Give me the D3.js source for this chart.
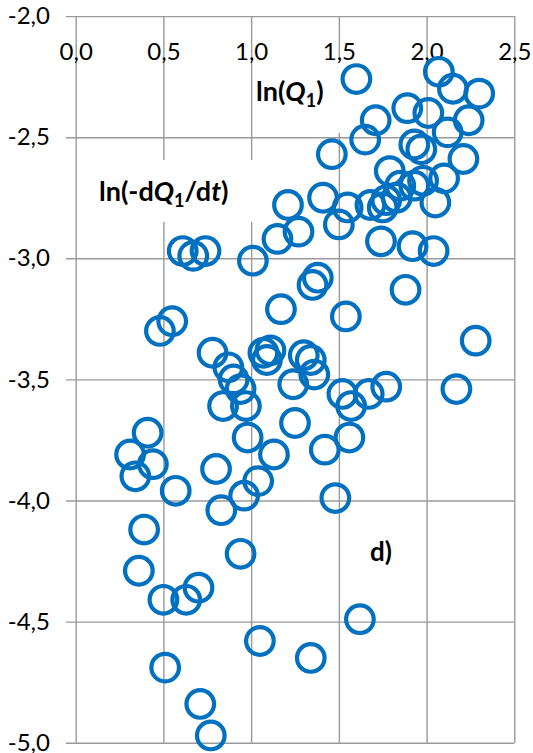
<!DOCTYPE html>
<html>
<head>
<meta charset="utf-8">
<script src="https://cdn.jsdelivr.net/npm/d3@7"></script>
<style>
  body { margin: 0; background: #fff; }
  text { font-family: Lato, "Liberation Sans", sans-serif; fill: #000; }
</style>
</head>
<body>
<div id="chart"></div>
<script>
// ln(Q1) on x, ln(-dQ1/dt) on y
const lnQ = [1.60, 2.07, 2.15, 2.30, 1.89, 2.01, 1.71, 1.65, 2.24, 2.12,
  1.93, 1.97, 2.21, 1.46, 1.79, 2.10, 1.98, 1.93, 1.85, 1.83,
  1.77, 2.05, 1.41, 1.55, 1.68, 1.75, 1.50, 1.21, 1.27, 1.15,
  1.74, 1.92, 2.04, 0.61, 0.67, 0.74, 1.01, 1.38, 1.35, 1.88,
  1.17, 1.54, 0.55, 0.48, 2.28, 0.78, 1.07, 1.11, 1.09, 1.30,
  1.34, 1.36, 1.24, 0.87, 0.90, 0.94, 0.97, 0.84, 1.52, 1.57,
  1.67, 1.77, 2.17, 1.25, 0.98, 1.56, 0.41, 0.31, 0.44, 0.34,
  1.13, 1.42, 0.80, 1.04, 0.96, 0.57, 0.83, 1.48, 0.39, 0.94,
  0.36, 0.70, 0.63, 0.50, 1.62, 1.05, 1.34, 0.51, 0.71, 0.77];
const lnRate = [-2.26, -2.23, -2.30, -2.32, -2.38, -2.40, -2.43, -2.51, -2.43, -2.48,
  -2.53, -2.55, -2.59, -2.57, -2.64, -2.67, -2.68, -2.70, -2.70, -2.75,
  -2.76, -2.77, -2.75, -2.79, -2.78, -2.79, -2.86, -2.78, -2.89, -2.92,
  -2.93, -2.95, -2.97, -2.97, -2.99, -2.97, -3.01, -3.08, -3.11, -3.13,
  -3.21, -3.24, -3.26, -3.30, -3.34, -3.39, -3.39, -3.38, -3.42, -3.40,
  -3.42, -3.48, -3.52, -3.45, -3.50, -3.54, -3.61, -3.61, -3.56, -3.61,
  -3.56, -3.53, -3.54, -3.68, -3.74, -3.74, -3.72, -3.81, -3.85, -3.90,
  -3.81, -3.79, -3.87, -3.92, -3.98, -3.96, -4.04, -3.99, -4.12, -4.22,
  -4.29, -4.36, -4.41, -4.41, -4.49, -4.58, -4.65, -4.69, -4.84, -4.97];

const xTicks = [0, 0.5, 1.0, 1.5, 2.0, 2.5];
const yTicks = [-2.0, -2.5, -3.0, -3.5, -4.0, -4.5, -5.0];

const W = 533, H = 753;
const plotL = 75.7, plotR = 514.3, plotT = 16.1, plotB = 742.7;

const svg = d3.select("#chart").append("svg")
  .attr("width", W)
  .attr("height", H);

const x = d3.scaleLinear().domain([0, 2.5]).range([plotL, plotR]);
const y = d3.scaleLinear().domain([-5, -2]).range([plotB, plotT]);

const fmt = d => d3.format(".1f")(d).replace(".", ",").replace("−", "-");

// horizontal grid + y labels
const yAxis = svg.append("g")
  .attr("transform", `translate(66,0)`)
  .call(d3.axisLeft(y).tickValues(yTicks).tickSize(-(plotR - 66)).tickPadding(16).tickFormat(fmt));
yAxis.select(".domain").remove();
yAxis.selectAll("line").attr("stroke", "#9a9a9a").attr("stroke-width", 1.4);
yAxis.selectAll("text").style("font-size", "24px").attr("fill", "#222");

// vertical grid
const xGrid = svg.append("g")
  .attr("transform", `translate(0,${plotT})`)
  .call(d3.axisBottom(x).tickValues(xTicks).tickSize(plotB - plotT).tickFormat(""));
xGrid.select(".domain").remove();
xGrid.selectAll("line").attr("stroke", "#9a9a9a").attr("stroke-width", 1.4);

// white boxes behind the labels
svg.append("rect").attr("x", 254).attr("y", 63).attr("width", 88).attr("height", 70).attr("fill", "#fff");
svg.append("rect").attr("x", 92).attr("y", 160).attr("width", 166).attr("height", 62).attr("fill", "#fff");

// x labels (drawn below the top line)
const xLab = svg.append("g")
  .attr("transform", `translate(0,${plotT})`)
  .call(d3.axisBottom(x).tickValues(xTicks).tickSize(0).tickPadding(27).tickFormat(fmt));
xLab.select(".domain").remove();
xLab.selectAll("text").style("font-size", "24px").attr("fill", "#222");

// points
svg.append("g")
  .selectAll("circle")
  .data(lnQ.map((v, i) => [v, lnRate[i]]))
  .join("circle")
  .attr("cx", d => x(d[0]))
  .attr("cy", d => y(d[1]))
  .attr("r", 13.8)
  .attr("fill", "none")
  .attr("stroke", "#0070c0")
  .attr("stroke-width", 4.2);

// axis name labels
const t1 = svg.append("text").attr("x", 256).attr("y", 101)
  .style("font-size", "27px").style("font-weight", "bold");
t1.append("tspan").text("ln(");
t1.append("tspan").attr("font-style", "italic").text("Q");
t1.append("tspan").attr("dy", 6).style("font-size", "18px").text("1");
t1.append("tspan").attr("dy", -6).text(")");

const t2 = svg.append("text").attr("x", 99).attr("y", 201)
  .style("font-size", "27px").style("font-weight", "bold");
t2.append("tspan").text("ln(-d");
t2.append("tspan").attr("font-style", "italic").text("Q");
t2.append("tspan").attr("dy", 6).style("font-size", "18px").text("1");
t2.append("tspan").attr("dy", -6).text("/d");
t2.append("tspan").attr("font-style", "italic").text("t");
t2.append("tspan").text(")");

svg.append("text").attr("x", 370).attr("y", 561)
  .style("font-size", "26px").style("font-weight", "bold").text("d)");
</script>
</body>
</html>
